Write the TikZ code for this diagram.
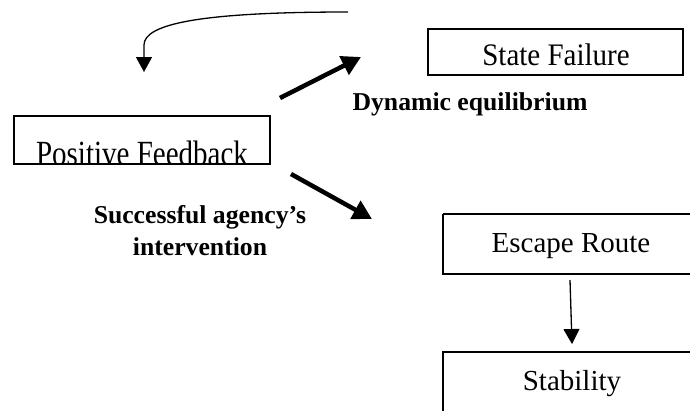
\documentclass[tikz,border=0pt]{standalone}
\usepackage{fontspec}
\setmainfont{Liberation Serif}
\usetikzlibrary{arrows.meta}
\begin{document}
\begin{tikzpicture}[x=1pt,y=-1pt,
  boxtext/.style={font=\fontsize{29}{29}\selectfont, inner sep=0pt, anchor=base},
  lbl/.style={font=\bfseries\fontsize{25.7}{32}\selectfont, align=center, inner sep=0pt, anchor=base},
  boxline/.style={line width=2pt},
  thin/.style={line width=1.3pt, -{Triangle[length=15pt,width=16pt]}},
  thick/.style={line width=4.5pt, -{Triangle[length=19pt,width=20pt]}}]
\useasboundingbox (0,0) rectangle (690,410);
% boxes
\draw[boxline] (14,116) rectangle (270,164);
\draw[boxline] (428,29) rectangle (683,75);
\draw[boxline] (443,214) -- (700,214);
\draw[boxline] (443,214) -- (443,274) -- (700,274);
\draw[boxline] (443,420) -- (443,352) -- (700,352);
% texts
\begin{scope}
\clip (15,117) rectangle (269,163);
\node[boxtext] (pf) at (142,165) {\scalebox{1}[1.22]{Positive Feedback}};
\end{scope}
\node[boxtext] (sf) at (556,65) {\scalebox{1}[1.08]{State Failure}};
\node[boxtext] (er) at (571,252) {Escape Route};
\node[boxtext] (st) at (572,390) {Stability};
\node[lbl] (de) at (470,110) {Dynamic equilibrium};
\node[lbl] (sa) at (200,255) {Successful agency’s\\intervention};
% connectors
\coordinate (c0) at (348,12);
\coordinate (c1) at (144,72);
\draw[thin] (c0) .. controls (200,12) and (144,24) .. (144,45) -- (c1);
\coordinate (a0) at (280,98);
\coordinate (a1) at (361,57);
\draw[thick] (a0) -- (a1);
\coordinate (b0) at (291,174);
\coordinate (b1) at (372,219);
\draw[thick] (b0) -- (b1);
\coordinate (d0) at (570,280);
\coordinate (d1) at (572,344);
\draw[thin] (d0) -- (d1);
\end{tikzpicture}
\end{document}
